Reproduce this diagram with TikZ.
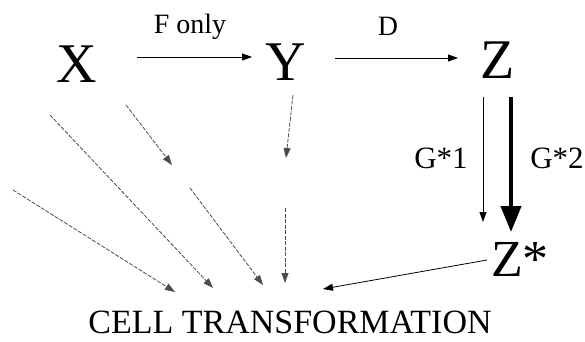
\documentclass[tikz,border=0pt]{standalone}
\usepackage{fontspec}
\setmainfont{Liberation Serif}
\usetikzlibrary{arrows.meta}
\begin{document}
\begin{tikzpicture}[
  x=1pt, y=-1pt,
  big/.style={anchor=base, inner sep=0pt, font=\fontsize{56}{56}\selectfont},
  lab/.style={anchor=base, inner sep=0pt, font=\fontsize{28}{28}\selectfont},
  arr/.style={line width=0.8pt, -{Triangle[length=10pt,width=7pt]}},
  faint/.style={arr, black!70, dash pattern=on 4pt off 1.5pt},
  heavy/.style={line width=4pt, -{Triangle[length=26pt,width=20pt]}}
]
  \useasboundingbox (0,0) rectangle (585,341);
  \node[big] (X) at (77,82) {X};
  \node[big] (Y) at (286,80) {Y};
  \node[big] (Z) at (498,78) {Z};
  \node[big, font=\fontsize{52}{52}\selectfont] (Zs) at (520,276) {Z*};
  \node[lab, font=\fontsize{34}{34}\selectfont] (cell) at (290,333) {CELL TRANSFORMATION};
  % free ends of the arrows
  \coordinate (f1) at (137,57);   \coordinate (f2) at (252,57);
  \coordinate (d1) at (335,58);   \coordinate (d2) at (458,58);
  \coordinate (g1) at (483,97);   \coordinate (g2) at (483,222);
  \coordinate (h1) at (511,97);   \coordinate (h2) at (511,232);
  \coordinate (s1) at (487,260);  \coordinate (s2) at (323,289);
  \coordinate (a1) at (13,190);   \coordinate (a2) at (175,292);
  \coordinate (b1) at (50,115);   \coordinate (b2) at (213,288);
  \coordinate (c1) at (126,105);  \coordinate (c2) at (172,165);
  \coordinate (c3) at (190,188);  \coordinate (c4) at (263,285);
  \coordinate (y1) at (293,95);   \coordinate (y2) at (286,158);
  \coordinate (y3) at (285,208);  \coordinate (y4) at (285,283);
  % top row
  \draw[arr] (f1) -- (f2);
  \node[lab] (ftext) at (190,33) {F only};
  \draw[arr] (d1) -- (d2);
  \node[lab] (dtext) at (388,35) {D};
  % Z to Z*
  \draw[arr] (g1) -- (g2);
  \draw[heavy] (h1) -- (h2);
  \node[lab, font=\fontsize{31}{31}\selectfont] (g1text) at (441,168) {G*1};
  \node[lab, font=\fontsize{31}{31}\selectfont] (g2text) at (557,168) {G*2};
  \draw[arr] (s1) -- (s2);
  % fan into cell transformation
  \draw[faint] (a1) -- (a2);
  \draw[faint] (b1) -- (b2);
  \draw[faint] (c1) -- (c2);
  \draw[faint] (c3) -- (c4);
  \draw[faint] (y1) -- (y2);
  \draw[faint] (y3) -- (y4);
\end{tikzpicture}
\end{document}
